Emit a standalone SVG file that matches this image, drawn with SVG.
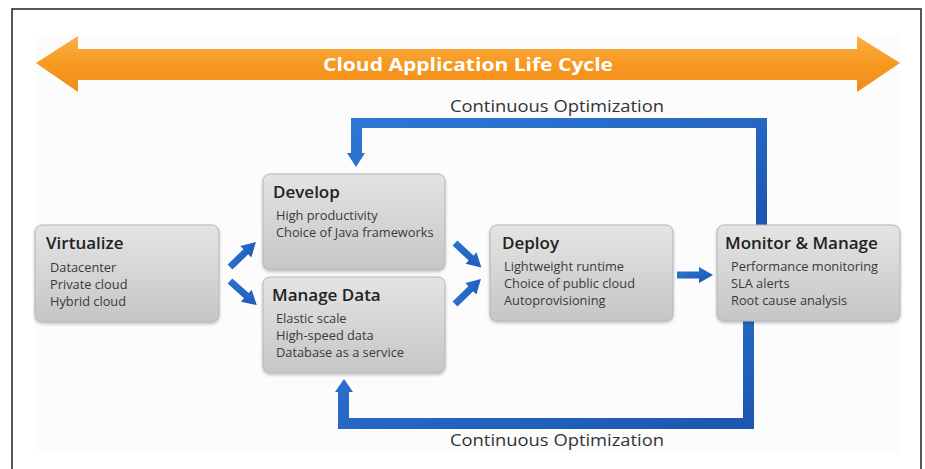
<svg xmlns="http://www.w3.org/2000/svg" width="925" height="469" viewBox="0 0 925 469">
<defs>
<linearGradient id="gBox" x1="0" y1="0" x2="0" y2="1">
<stop offset="0" stop-color="#e4e4e4"/>
<stop offset="1" stop-color="#c6c6c6"/>
</linearGradient>
<linearGradient id="gOrange" x1="0" y1="0" x2="0" y2="1">
<stop offset="0" stop-color="#fbb04a"/>
<stop offset="0.5" stop-color="#f7981f"/>
<stop offset="1" stop-color="#f08c1a"/>
</linearGradient>
<linearGradient id="gBlue" x1="0" y1="0" x2="1" y2="1">
<stop offset="0" stop-color="#2f78d6"/>
<stop offset="1" stop-color="#1b56b0"/>
</linearGradient>
<filter id="sh" x="-10%" y="-10%" width="120%" height="130%">
<feDropShadow dx="0" dy="1.5" stdDeviation="1.5" flood-color="#000" flood-opacity="0.25"/>
</filter>
<path id="sArrow" d="M0,-3.5 L22,-3.5 L22,-8 L36,0 L22,8 L22,3.5 L0,3.5 Z"/>
</defs>
<style>
.box{fill:url(#gBox);stroke:#b5b5b5;stroke-width:1;filter:url(#sh)}
.ttl{font-family:"Open Sans","Liberation Sans",sans-serif;font-size:17px;font-weight:600;fill:#222}
.itm{font-family:"Open Sans","Liberation Sans",sans-serif;font-size:12.8px;fill:#3a3a3a}
.lbl{font-family:"Open Sans","Liberation Sans",sans-serif;font-size:16px;fill:#333}
.blue{fill:url(#gBlue)}
</style>
<rect x="0" y="0" width="925" height="469" fill="#ffffff"/>
<rect x="12" y="9" width="909" height="480" fill="none" stroke="#222" stroke-width="1.5"/>
<rect x="34" y="34" width="866" height="420" fill="#fcfcfc"/>

<g id="lifecycle">
<path d="M36,63 L78,36 L78,49 L857,49 L857,36 L900,63 L857,92 L857,80 L78,80 L78,92 Z" fill="url(#gOrange)"/>
<text x="468" y="71" text-anchor="middle" font-family="'Open Sans','Liberation Sans',sans-serif" font-size="18" font-weight="700" fill="#ffffff" textLength="290" lengthAdjust="spacingAndGlyphs">Cloud Application Life Cycle</text>
</g>

<g id="connectors">
<path class="blue" d="M351,153 L351,118 L767,118 L767,225 L756,225 L756,128 L362,128 L362,153 L365,153 L356,167 L347,153 Z"/>
<path class="blue" d="M338,392 L338,429 L754,429 L754,321 L743,321 L743,418 L349,418 L349,392 L353,392 L344,379 L335,392 Z"/>
<use href="#sArrow" class="blue" transform="translate(230,267) rotate(-44)"/>
<use href="#sArrow" class="blue" transform="translate(230,281) rotate(42)"/>
<use href="#sArrow" class="blue" transform="translate(455,243) rotate(43)"/>
<use href="#sArrow" class="blue" transform="translate(455,304) rotate(-44)"/>
<use href="#sArrow" class="blue" transform="translate(677,275)"/>
<text class="lbl" x="557" y="112" text-anchor="middle" textLength="214" lengthAdjust="spacingAndGlyphs">Continuous Optimization</text>
<text class="lbl" x="557" y="446" text-anchor="middle" textLength="214" lengthAdjust="spacingAndGlyphs">Continuous Optimization</text>
</g>

<g id="virtualize">
<rect class="box" x="35" y="225" width="184" height="97" rx="7"/>
<text class="ttl" x="46" y="249">Virtualize</text>
<text class="itm" x="50" y="272">Datacenter</text>
<text class="itm" x="50" y="289">Private cloud</text>
<text class="itm" x="50" y="306">Hybrid cloud</text>
</g>

<g id="develop">
<rect class="box" x="263" y="174" width="182" height="96" rx="7"/>
<text class="ttl" x="273" y="198">Develop</text>
<text class="itm" x="276" y="220">High productivity</text>
<text class="itm" x="276" y="237">Choice of Java frameworks</text>
</g>

<g id="manage-data">
<rect class="box" x="263" y="277" width="182" height="96" rx="7"/>
<text class="ttl" x="272" y="301">Manage Data</text>
<text class="itm" x="276" y="323">Elastic scale</text>
<text class="itm" x="276" y="340">High-speed data</text>
<text class="itm" x="276" y="357">Database as a service</text>
</g>

<g id="deploy">
<rect class="box" x="490" y="225" width="183" height="96" rx="7"/>
<text class="ttl" x="502" y="249">Deploy</text>
<text class="itm" x="504" y="271">Lightweight runtime</text>
<text class="itm" x="504" y="288">Choice of public cloud</text>
<text class="itm" x="504" y="305">Autoprovisioning</text>
</g>

<g id="monitor">
<rect class="box" x="717" y="225" width="183" height="96" rx="7"/>
<text class="ttl" x="725" y="249">Monitor &amp; Manage</text>
<text class="itm" x="731" y="271">Performance monitoring</text>
<text class="itm" x="731" y="288">SLA alerts</text>
<text class="itm" x="731" y="305">Root cause analysis</text>
</g>
</svg>
